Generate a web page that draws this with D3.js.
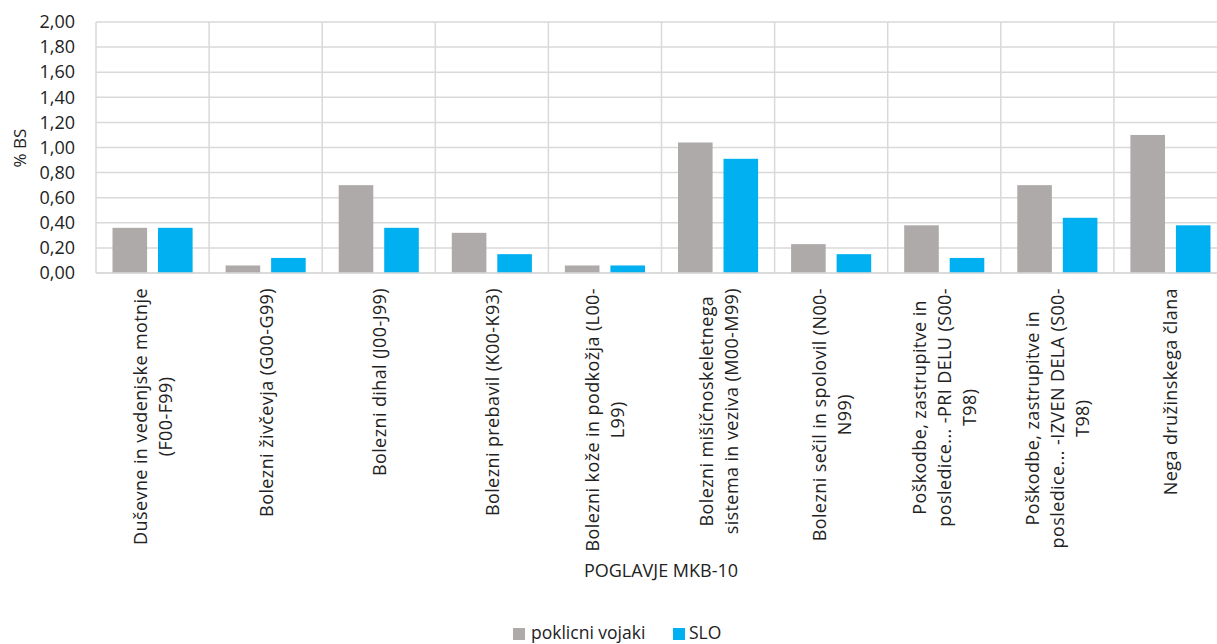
<!DOCTYPE html>
<html><head><meta charset="utf-8">
<script src="https://cdn.jsdelivr.net/npm/d3@7"></script>
<style>
html,body{margin:0;padding:0;background:#fff;}
svg{display:block;font-family:"Open Sans","Noto Sans",sans-serif;}
</style></head>
<body>
<svg id="c" width="1217" height="644"></svg>
<script>
const categories = [
  "Duševne in vedenjske motnje\n(F00-F99)",
  "Bolezni živčevja (G00-G99)",
  "Bolezni dihal (J00-J99)",
  "Bolezni prebavil (K00-K93)",
  "Bolezni kože in podkožja (L00-\nL99)",
  "Bolezni mišičnoskeletnega\nsistema in veziva (M00-M99)",
  "Bolezni sečil in spolovil (N00-\nN99)",
  "Poškodbe, zastrupitve in\nposledice... -PRI DELU (S00-\nT98)",
  "Poškodbe, zastrupitve in\nposledice... -IZVEN DELA (S00-\nT98)",
  "Nega družinskega člana"
];
const seriesNames = ["poklicni vojaki", "SLO"];
const poklicniVojaki = [0.36, 0.06, 0.70, 0.32, 0.06, 1.04, 0.23, 0.38, 0.70, 1.10];
const sloValues = [0.36, 0.12, 0.36, 0.15, 0.06, 0.91, 0.15, 0.12, 0.44, 0.38];
const yTickValues = [0, 0.2, 0.4, 0.6, 0.8, 1.0, 1.2, 1.4, 1.6, 1.8, 2.0];
const yTitle = "% BS";
const xTitle = "POGLAVJE MKB-10";
const colors = ["#AEAAAA", "#00B0F0"];

const svg = d3.select("#c");
const L = 96, R = 1227, T = 22, B = 273;

const x0 = d3.scaleBand().domain(categories).range([L, R]).padding(0);
const bw = x0.bandwidth();
const x1 = d3.scaleBand().domain(seriesNames).range([16.5, bw - 16.5]).paddingInner(0.24);
const y = d3.scaleLinear().domain([0, 2]).range([B, T]);
const fmt = d => d.toFixed(2).replace(".", ",");

const grid = "#D9D9D9";
svg.append("g").selectAll("line").data(yTickValues).join("line")
  .attr("x1", L).attr("x2", R)
  .attr("y1", d => y(d)).attr("y2", d => y(d))
  .attr("stroke", grid).attr("stroke-width", 1.5);
svg.append("g").selectAll("line").data(categories).join("line")
  .attr("x1", d => x0(d)).attr("x2", d => x0(d))
  .attr("y1", T).attr("y2", B)
  .attr("stroke", grid).attr("stroke-width", 1.5);

const data = categories.map((c, i) => ({c, vals: [poklicniVojaki[i], sloValues[i]]}));
const gCat = svg.append("g").selectAll("g").data(data).join("g")
  .attr("transform", d => `translate(${x0(d.c)},0)`);
gCat.selectAll("rect").data(d => d.vals.map((v, j) => ({v, s: seriesNames[j], j})))
  .join("rect")
  .attr("x", d => x1(d.s)).attr("width", x1.bandwidth())
  .attr("y", d => y(d.v)).attr("height", d => B - y(d.v))
  .attr("fill", d => colors[d.j]);

svg.append("line").attr("x1", L).attr("x2", R).attr("y1", B).attr("y2", B)
  .attr("stroke", grid).attr("stroke-width", 1.5);

const yAxis = d3.axisLeft(y).tickValues(yTickValues).tickFormat(fmt).tickSize(0).tickPadding(0);
const ya = svg.append("g").attr("transform", `translate(${L - 21},0)`).call(yAxis);
ya.select(".domain").remove();
ya.selectAll("text").attr("font-size", 18).attr("fill", "#222")
  .attr("font-family", "Open Sans");

svg.append("text").attr("transform", "translate(26,148) rotate(-90)")
  .attr("text-anchor", "middle").attr("font-size", 17).attr("fill", "#222").text(yTitle);

const lineH = 25;
categories.forEach(c => {
  const lines = c.split("\n");
  const cx = x0(c) + bw / 2;
  const g = svg.append("g").attr("transform", `translate(${cx},288) rotate(-90)`);
  const texts = lines.map((ln, i) => g.append("text")
    .attr("font-size", 18).attr("letter-spacing", 0.4).attr("fill", "#222")
    .attr("text-anchor", "middle").attr("dominant-baseline", "central")
    .attr("y", (i - (lines.length - 1) / 2) * lineH).text(ln));
  const maxLen = d3.max(texts, t => t.node().getComputedTextLength());
  texts.forEach(t => t.attr("x", -maxLen / 2));
});

svg.append("text").attr("x", 661).attr("y", 577).attr("text-anchor", "middle")
  .attr("font-size", 18).attr("fill", "#222").text(xTitle);

const leg = svg.append("g");
const legItems = [{n: seriesNames[0], x: 513, tx: 531}, {n: seriesNames[1], x: 673, tx: 689}];
legItems.forEach((it, i) => {
  leg.append("rect").attr("x", it.x).attr("y", 628).attr("width", 12).attr("height", 12).attr("fill", colors[i]);
  leg.append("text").attr("x", it.tx).attr("y", 639).attr("font-size", 17.5).attr("fill", "#222").text(it.n);
});
</script>
</body></html>
